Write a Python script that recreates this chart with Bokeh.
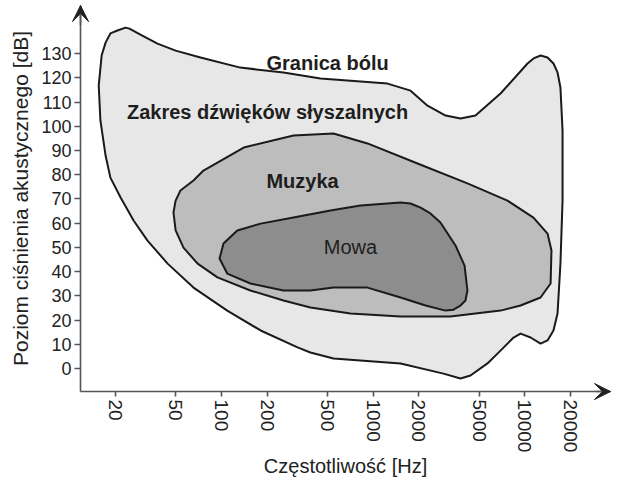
from bokeh.plotting import figure
from bokeh.models import Range1d, FixedTicker, NumeralTickFormatter, Arrow, VeeHead
from bokeh.core.properties import value
from bokeh.embed import file_html
from bokeh.resources import INLINE

FONT = "Liberation Sans"

# --- data (frequency in Hz, level in dB) ---
hearing_hz = [18.5, 20.6, 23.3, 24.7, 29.2, 37.8, 49.8, 72.6, 133, 256, 449, 1242, 1762,
              2280, 3000, 3758, 4720, 6902, 10400, 11400, 12680, 14090, 15420, 16400,
              17140, 17700, 17700, 17140, 16400, 15420, 14090, 12680, 10890, 9354, 8414,
              6902, 5662, 4375, 3758, 2904, 1514, 547, 385, 317, 181, 109, 65.3, 44.1,
              32.5, 26.3, 21.6, 18.5, 17.2, 15.9, 15.5, 16.2, 17.2]
hearing_db = [138.3, 139.5, 140.7, 140.3, 137.8, 134.1, 131.2, 128.4, 124.2, 122.2, 119.7,
              117.6, 114.7, 108.5, 104.4, 103.2, 104.4, 113.5, 125.9, 128.0, 129.2, 128.4,
              125.9, 122.2, 116.0, 98.2, 69.3, 43.3, 22.7, 15.7, 11.6, 10.3, 12.8, 14.4,
              12.8, 7.4, 2.1, -2.9, -4.1, -2.1, 2.1, 4.1, 6.6, 8.7, 15.7, 23.9, 33.4,
              43.3, 52.8, 61.1, 70.6, 78.8, 87.9, 102.4, 116.8, 129.2, 134.5]

music_hz = [48.2, 49.8, 53.6, 65.3, 76.0, 140, 298, 547, 916, 1959, 4178, 7674, 11380,
            14090, 14960, 14760, 12680, 9354, 6902, 3228, 1514, 708, 385, 256, 155, 94.0,
            69.5, 56.1, 49.8]
music_db = [64.4, 69.3, 73.5, 77.6, 81.7, 91.2, 96.2, 97.0, 92.9, 84.6, 76.4, 69.3, 62.3,
            55.7, 48.7, 35.1, 29.3, 26.0, 23.9, 21.5, 21.5, 22.7, 25.2, 28.1, 32.2, 37.6,
            43.3, 49.9, 57.0]

speech_hz = [97.0, 103, 127, 181, 298, 522, 824, 1514, 1762, 2051, 2382, 2773, 3483, 4000,
             4178, 4055, 3758, 3381, 2992, 2213, 1514, 916, 547, 385, 256, 155, 109]
speech_db = [45.4, 51.6, 57.0, 59.8, 62.3, 65.2, 67.3, 68.5, 68.1, 66.4, 64.0, 60.3, 50.8,
             42.5, 32.2, 28.1, 26.0, 24.3, 23.9, 26.0, 29.3, 33.4, 33.4, 32.2, 32.2, 35.1,
             39.2]

label_text = ["Granica bólu", "Zakres dźwięków słyszalnych", "Muzyka", "Mowa"]
label_hz = [500, 201, 342, 708]
label_db = [126.3, 105.7, 77.6, 50.0]
label_bold = [True, True, True, False]

x_ticks = [20, 50, 100, 200, 500, 1000, 2000, 5000, 10000, 20000]
y_ticks = [0, 10, 20, 30, 40, 50, 60, 70, 80, 90, 100, 110, 120, 130]

# axis positions (where the two axes cross, and where the arrows end)
x_axis_db = -9.5
y_axis_hz = 11.76
x_arrow_hz = 36650
y_arrow_db = 149.8
# visible ranges (the frame covers the whole canvas; axes sit inside it)
x_min, x_max = 3.49, 42650
y_min, y_max = -47.46, 151.9

p = figure(width=620, height=483, x_axis_type="log",
           x_range=Range1d(x_min, x_max), y_range=Range1d(y_min, y_max),
           output_backend="svg", toolbar_location=None,
           min_border_left=0, min_border_right=0, min_border_top=0, min_border_bottom=0)
p.outline_line_color = None
p.grid.visible = False
p.background_fill_color = "white"

line_col = "#1a1a1a"
p.patch(hearing_hz, hearing_db, fill_color="#e7e7e7", line_color=line_col, line_width=2,
        line_join="round")
p.patch(music_hz, music_db, fill_color="#bdbdbd", line_color=line_col, line_width=2,
        line_join="round")
p.patch(speech_hz, speech_db, fill_color="#8d8d8d", line_color=line_col, line_width=2,
        line_join="round")

for t, hz, db, b in zip(label_text, label_hz, label_db, label_bold):
    p.text(x=[hz], y=[db], text=[t], text_align="center", text_baseline="middle",
           text_font=value(FONT), text_font_size="20px",
           text_font_style="bold" if b else "normal", text_color="#1e1e1e")

axis_col = "#555555"
for ax in (p.xaxis[0], p.yaxis[0]):
    ax.axis_line_color = axis_col
    ax.axis_line_width = 1.6
    ax.major_tick_line_color = axis_col
    ax.major_tick_line_width = 1.6
    ax.major_tick_in = 0
    ax.minor_tick_line_color = None
    ax.major_label_text_font = FONT
    ax.major_label_text_color = "#222222"
    ax.axis_label_text_font = FONT
    ax.axis_label_text_font_style = "normal"
    ax.axis_label_text_color = "#222222"

p.xaxis.ticker = FixedTicker(ticks=x_ticks)
p.xaxis.formatter = NumeralTickFormatter(format="0")
p.xaxis.major_label_orientation = "vertical"
p.xaxis.major_label_text_font_size = "19px"
p.xaxis.major_tick_out = 5
p.xaxis.major_label_standoff = 3
p.xaxis.axis_label = "Częstotliwość [Hz]"
p.xaxis.axis_label_text_font_size = "20px"
p.xaxis.axis_label_standoff = 0
p.xaxis.fixed_location = x_axis_db
p.xaxis.bounds = (y_axis_hz, x_arrow_hz)

p.yaxis.ticker = FixedTicker(ticks=y_ticks)
p.yaxis.major_label_text_font_size = "18px"
p.yaxis.major_tick_out = 6
p.yaxis.major_label_standoff = 3
p.yaxis.axis_label = "Poziom ciśnienia akustycznego [dB]"
p.yaxis.axis_label_text_font_size = "21px"
p.yaxis.axis_label_standoff = 6
p.yaxis.fixed_location = y_axis_hz
p.yaxis.bounds = (x_axis_db, y_arrow_db)

head_col = "#222222"
p.add_layout(Arrow(end=VeeHead(size=16, fill_color=head_col, line_color=head_col),
                   x_start=y_axis_hz, y_start=y_arrow_db - 8, x_end=y_axis_hz, y_end=y_arrow_db,
                   line_color=axis_col, line_width=1.6))
p.add_layout(Arrow(end=VeeHead(size=16, fill_color=head_col, line_color=head_col),
                   x_start=x_arrow_hz * 0.8, y_start=x_axis_db, x_end=x_arrow_hz, y_end=x_axis_db,
                   line_color=axis_col, line_width=1.6))

open("out.html", "w").write(file_html(p, INLINE))
